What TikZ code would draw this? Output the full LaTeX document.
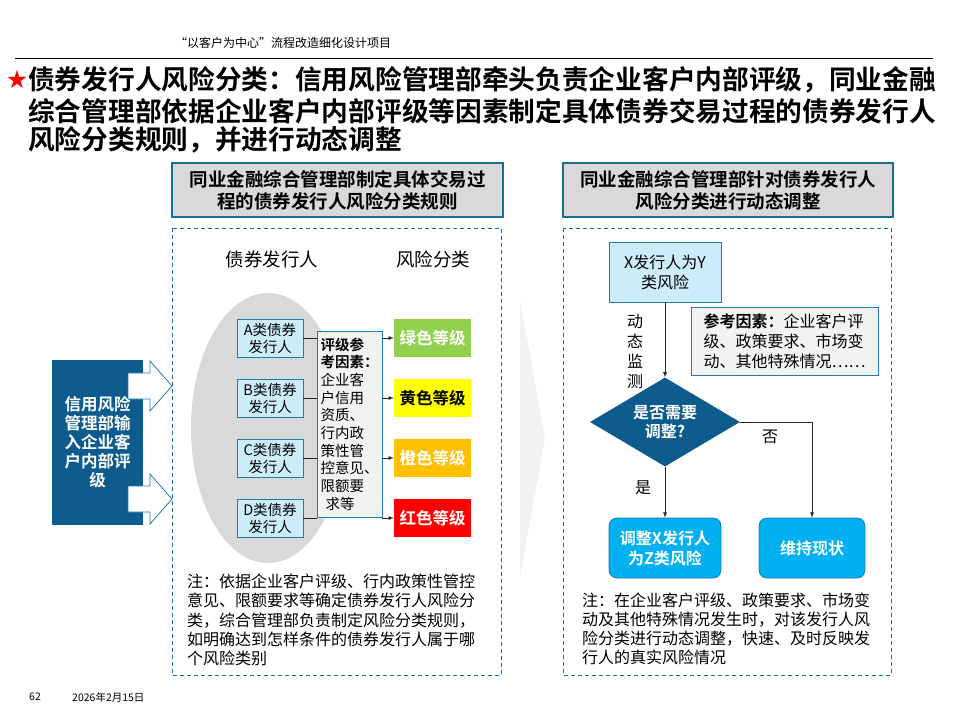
\documentclass[tikz,border=0pt]{standalone}
\usepackage{fontspec}
\setmainfont{Noto Sans CJK SC}[BoldFont={Noto Sans CJK SC Bold}]
\newfontfamily\symfont{DejaVu Sans}
\usetikzlibrary{shapes.geometric}

\definecolor{deepblue}{HTML}{0E5C8E}
\definecolor{frameblue}{HTML}{1B6F94}
\definecolor{boxblue}{HTML}{1F7AB5}
\definecolor{paleblue}{HTML}{CCECFA}
\definecolor{hdrgray}{HTML}{D9D9D9}
\definecolor{factgray}{HTML}{F2F2F2}
\definecolor{skyblue}{HTML}{00B0F0}
\definecolor{gradegreen}{HTML}{92D050}
\definecolor{gradeyellow}{HTML}{FFFF00}
\definecolor{gradeorange}{HTML}{FFC000}
\definecolor{gradered}{HTML}{FF0000}

\newcommand{\fsz}[2]{\fontsize{#1}{#2}\selectfont}

\begin{document}
\begin{tikzpicture}[x=1pt, y=-1pt, >=latex,
    titlefont/.style={font=\bfseries\fsz{26.7}{30}, inner sep=0pt},
    hdr/.style={draw=frameblue, line width=1.2pt, fill=hdrgray, minimum width=330pt,
        minimum height=54pt, inner sep=0pt, align=center, font=\bfseries\fsz{18.5}{22}},
    dashbox/.style={draw=frameblue, line width=1pt, dash pattern=on 4pt off 3pt},
    issuer/.style={draw=boxblue, line width=0.8pt, fill=paleblue, minimum width=66pt,
        minimum height=38pt, inner sep=0pt, align=center, font=\fsz{14.5}{17}},
    factor/.style={draw=boxblue, line width=0.8pt, fill=factgray, minimum width=65pt,
        minimum height=186pt, inner sep=0pt, align=left, font=\fsz{14.5}{17.7}},
    grade/.style={minimum width=77pt, minimum height=38pt, inner sep=0pt,
        font=\bfseries\fsz{16.5}{18}},
    inbox/.style={fill=deepblue, text=white, minimum width=91pt, minimum height=165pt,
        inner sep=0pt, align=center, font=\bfseries\fsz{16.5}{19}},
    blockarrow/.style={draw=boxblue, line width=0.8pt, fill=white},
    notetext/.style={inner sep=0pt, align=left, font=\fsz{16}{19.2}},
    flowbox/.style={draw=boxblue, line width=0.8pt, fill=skyblue, text=white, rounded corners=8pt,
        minimum height=60pt, inner sep=0pt, align=center, font=\bfseries\fsz{16}{20}},
    link/.style={line width=0.8pt, black!85}]

    \useasboundingbox (0,0) rectangle (960,720);

    % intestazione
    \node[font=\fsz{12}{14}, anchor=west, inner sep=0pt] (proj) at (175,43) {“以客户为中心”流程改造细化设计项目};
    \draw[line width=0.8pt] (15,58) -- (933,58);

    % titolo
    \node[text=red, font=\symfont\fsz{25}{25}, inner sep=0pt] (star) at (17,80) {★};
    \node[titlefont, anchor=west] (title1) at (28,80) {债券发行人风险分类：信用风险管理部牵头负责企业客户内部评级，同业金融};
    \node[titlefont, anchor=west] (title2) at (28,111) {综合管理部依据企业客户内部评级等因素制定具体债券交易过程的债券发行人};
    \node[titlefont, anchor=west] (title3) at (28,140) {风险分类规则，并进行动态调整};

    % testate delle due colonne
    \node[hdr, minimum width=331pt] (lhead) at (337.5,190) {同业金融综合管理部制定具体交易过\\程的债券发行人风险分类规则};
    \node[hdr] (rhead) at (728,190) {同业金融综合管理部针对债券发行人\\风险分类进行动态调整};
    \draw[dashbox] (172,228) rectangle (501,675);
    \draw[dashbox] (563,228) rectangle (891,675);

    % freccia grigia tra le colonne
    \fill[black!5] (520,300) -- (545,438) -- (520,577) -- cycle;

    % colonna sinistra
    \node[font=\fsz{18.5}{20}] (colA) at (272,259) {债券发行人};
    \node[font=\fsz{18.5}{20}] (colB) at (433,259) {风险分类};
    \fill[hdrgray] (268,428) ellipse [x radius=77pt, y radius=135pt];

    \foreach \k/\yy in {A/338,B/398,C/458,D/518}
        \node[issuer] (i\k) at (270,\yy) {\k{}类债券\\发行人};

    \node[factor] (fac) at (349.5,424) {\textbf{评级参}\\\textbf{考因素：}\\企业客\\户信用\\资质、\\行内政\\策性管\\控意见、\\限额要\\\hspace{5pt}求等};

    \foreach \k/\yy/\col/\txt/\lab in {A/338/gradegreen/white/绿色等级, B/398/gradeyellow/black/黄色等级,
        C/458/gradeorange/white/橙色等级, D/518/gradered/white/红色等级}
        \node[grade, fill=\col, text=\txt] (g\k) at (432.5,\yy) {\lab};

    \foreach \k in {A,B,C,D} {
        \draw[link] (i\k.east) -- (i\k.east -| fac.west);
        \draw[link, ->] (fac.east |- g\k.west) -- (g\k.west);
    }

    % input dal rischio di credito
    \node[inbox] (crm) at (97.5,442.5) {信用风险\\管理部输\\入企业客\\户内部评\\级};
    \foreach \yy in {386,499}
        \draw[blockarrow] (128,\yy-13) -- (150,\yy-13) -- (150,\yy-25) -- (172,\yy)
            -- (150,\yy+25) -- (150,\yy+13) -- (128,\yy+13) -- cycle;

    \node[notetext, anchor=west] (lnote) at (187,620) {注：依据企业客户评级、行内政策性管控\\意见、限额要求等确定债券发行人风险分\\类，综合管理部负责制定风险分类规则，\\如明确达到怎样条件的债券发行人属于哪\\个风险类别};

    % colonna destra: flusso decisionale
    \node[issuer, minimum width=112pt, minimum height=60pt, font=\fsz{16}{20}] (xy) at (665,272) {X发行人为Y\\类风险};
    \node[font=\fsz{16}{20}, align=center, inner sep=0pt] (mon) at (635,352) {动\\态\\监\\测};
    \node[factor, minimum width=187pt, minimum height=68pt, font=\fsz{16}{20}] (ref) at (784.5,341) {\textbf{参考因素：}企业客户评\\级、政策要求、市场变\\动、其他特殊情况……};
    \node[diamond, aspect=1.7, fill=deepblue, text=white, minimum width=150pt, minimum height=89pt,
        inner sep=0pt, align=center, font=\bfseries\fsz{16}{19}] (dec) at (665,422) {是否需要\\调整?};
    \node[flowbox, minimum width=112pt] (adj) at (665,548) {调整X发行人\\为Z类风险};
    \node[flowbox, minimum width=106pt] (keep) at (812,548) {维持现状};

    \draw[link, ->] (xy) -- (dec);
    \draw[link, ->] (dec) -- (adj);
    \draw[link, ->] (dec.east) -| (keep);
    \node[font=\fsz{16}{18}, inner sep=0pt] (yes) at (643,488) {是};
    \node[font=\fsz{16}{18}, inner sep=0pt] (no) at (770,437) {否};

    \node[notetext, anchor=west] (rnote) at (582,629) {注：在企业客户评级、政策要求、市场变\\动及其他特殊情况发生时，对该发行人风\\险分类进行动态调整，快速、及时反映发\\行人的真实风险情况};

    % piè di pagina
    \node[font=\fsz{10.5}{12}, inner sep=0pt] (page) at (35,697) {62};
    \node[font=\fsz{10.5}{12}, anchor=west, inner sep=0pt] (date) at (72,697) {2026年2月15日};
\end{tikzpicture}
\end{document}
